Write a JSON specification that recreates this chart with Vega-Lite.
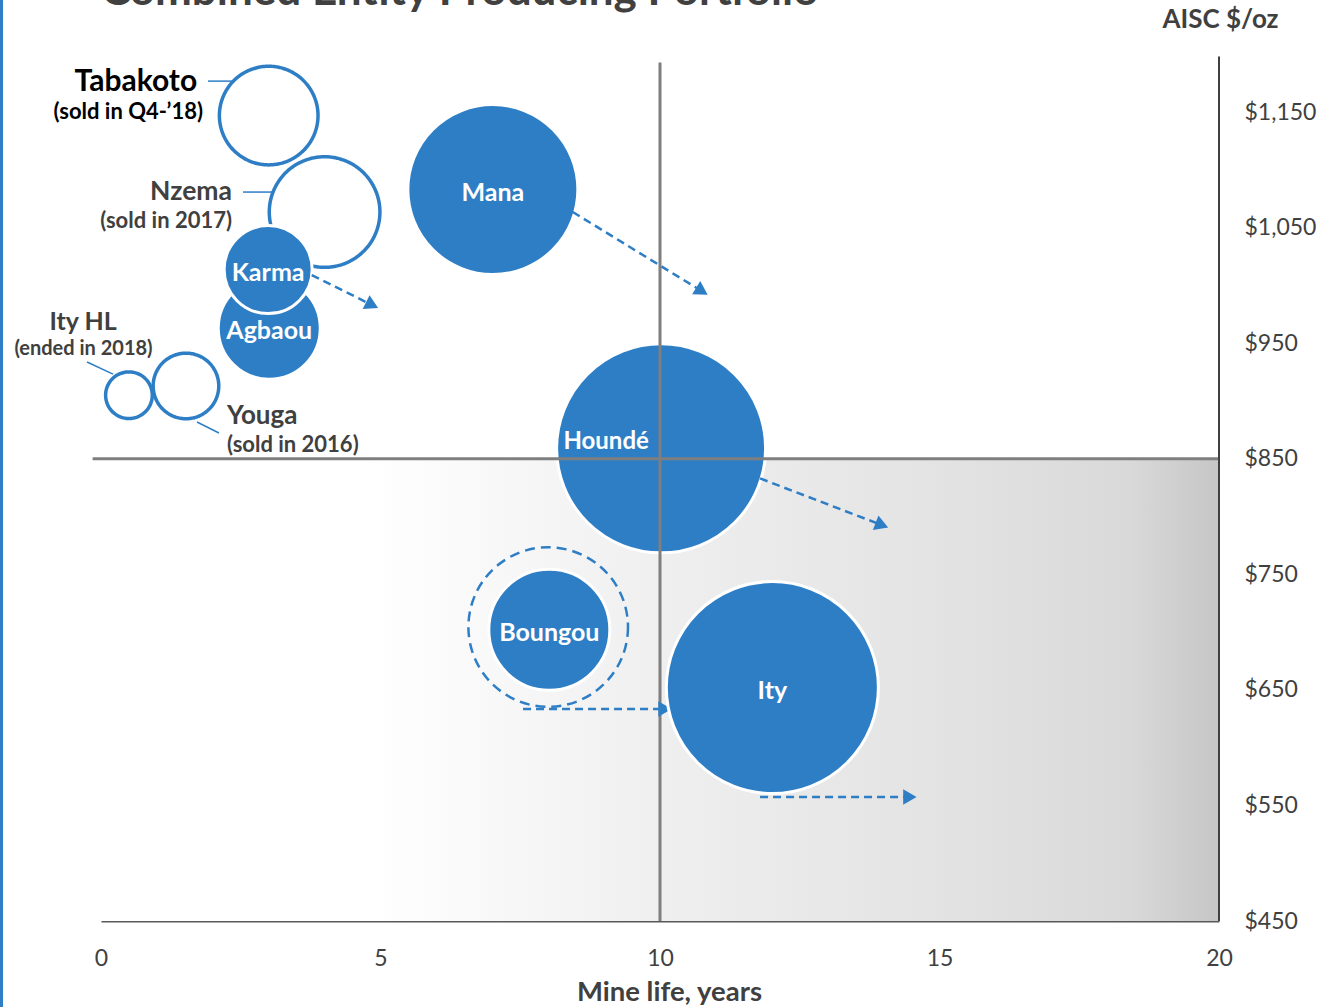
{
  "$schema": "https://vega.github.io/schema/vega-lite/v6.json",
  "width": 1118,
  "height": 921,
  "autosize": {"type": "none"},
  "padding": {"left": 101, "top": 0, "right": 117, "bottom": 86},
  "background": "white",
  "config": {"view": {"stroke": null}, "font": "Lato"},
  "datasets": {
    "mines": [
      {"mine": "Tabakoto", "status": "divested", "life": 3.0, "aisc": 1147, "production": 60.8},
      {"mine": "Nzema", "status": "divested", "life": 4.0, "aisc": 1063.5, "production": 76.5},
      {"mine": "Ity HL", "status": "divested", "life": 0.5, "aisc": 905, "production": 13.6},
      {"mine": "Youga", "status": "divested", "life": 1.52, "aisc": 913, "production": 26.9},
      {"mine": "Boungou", "status": "expansion", "life": 8.0, "aisc": 704.4, "production": 159.2},
      {"mine": "Agbaou", "status": "operating", "life": 3.01, "aisc": 963, "production": 65},
      {"mine": "Karma", "status": "operating", "life": 2.99, "aisc": 1013.7, "production": 48.4},
      {"mine": "Mana", "status": "operating", "life": 7.01, "aisc": 1083, "production": 180.6},
      {"mine": "Houndé", "status": "operating", "life": 10.02, "aisc": 859, "production": 273},
      {"mine": "Boungou", "status": "operating", "life": 8.02, "aisc": 702, "production": 91.5},
      {"mine": "Ity", "status": "operating", "life": 12.01, "aisc": 652, "production": 281}
    ],
    "arrows": [
      {"mine": "Mana", "life": 8.44, "aisc": 1063.5, "life2": 10.75, "aisc2": 995},
      {"mine": "Karma", "life": 3.77, "aisc": 1009, "life2": 4.85, "aisc2": 983},
      {"mine": "Houndé", "life": 11.79, "aisc": 833, "life2": 13.97, "aisc2": 792.6},
      {"mine": "Boungou", "life": 7.55, "aisc": 633.4, "life2": 10.09, "aisc2": 633.4},
      {"mine": "Ity", "life": 11.79, "aisc": 557.3, "life2": 14.47, "aisc2": 557.3}
    ],
    "zones": [
      {"zone": "low cost, long life", "life": 0, "life2": 20, "aisc": 450, "aisc2": 850}
    ],
    "refs": [
      {"kind": "quadrant", "life": -0.15, "aisc": 850, "life2": 20, "aisc2": 850},
      {"kind": "quadrant", "life": 10, "aisc": 450, "life2": 10, "aisc2": 1193},
      {"kind": "axis", "life": 20, "aisc": 450, "life2": 20, "aisc2": 1198},
      {"kind": "border", "life": -1.78, "aisc": 370, "life2": -1.78, "aisc2": 1247}
    ],
    "notes": [
      {"mine": "Tabakoto", "role": "name", "text": "Tabakoto", "life": 1.72, "aisc": 1168.2},
      {"mine": "Tabakoto", "role": "status", "text": "(sold in Q4-’18)", "life": 1.825, "aisc": 1144},
      {"mine": "Nzema", "role": "name", "text": "Nzema", "life": 2.343, "aisc": 1073.9},
      {"mine": "Nzema", "role": "status", "text": "(sold in 2017)", "life": 2.343, "aisc": 1049.6},
      {"mine": "Ity HL", "role": "name", "text": "Ity HL", "life": -0.322, "aisc": 961.4},
      {"mine": "Ity HL", "role": "status", "text": "(ended in 2018)", "life": -0.313, "aisc": 939.7},
      {"mine": "Youga", "role": "name", "text": "Youga", "life": 2.254, "aisc": 880},
      {"mine": "Youga", "role": "status", "text": "(sold in 2016)", "life": 2.254, "aisc": 855.8}
    ],
    "leaders": [
      {"mine": "Tabakoto", "life": 1.914, "aisc": 1176.8, "life2": 2.343, "aisc2": 1176.8},
      {"mine": "Nzema", "life": 2.54, "aisc": 1080.8, "life2": 3.059, "aisc2": 1080.8},
      {"mine": "Ity HL", "life": -0.25, "aisc": 933.7, "life2": 0.215, "aisc2": 923.3},
      {"mine": "Youga", "life": 1.717, "aisc": 881.8, "life2": 2.111, "aisc2": 872.3}
    ],
    "headings": [
      {"title": "Combined Entity Producing Portfolio", "life": 0, "aisc": 1242.6}
    ]
  },
  "encoding": {
    "x": {
      "field": "life", "type": "quantitative",
      "scale": {"domain": [0, 20], "nice": false, "zero": false},
      "axis": {
        "title": "Mine life, years", "values": [0, 5, 10, 15, 20], "ticks": false, "grid": false,
        "domain": true, "domainColor": "#595959", "domainWidth": 2,
        "labelFontSize": 23, "labelColor": "#404040", "labelPadding": 26, "labelFlush": false,
        "titleFontSize": 27.5, "titleFontWeight": "bold", "titleColor": "#404040",
        "titleX": 568, "titleY": 79, "titleAlign": "center", "titleBaseline": "alphabetic"
      }
    },
    "y": {
      "field": "aisc", "type": "quantitative",
      "scale": {"domain": [450, 1247], "nice": false, "zero": false},
      "axis": {
        "orient": "right", "title": "AISC $/oz", "values": [450, 550, 650, 750, 850, 950, 1050, 1150],
        "format": "$,.0f", "ticks": false, "grid": false, "domain": false,
        "labelFontSize": 23, "labelColor": "#404040", "labelPadding": 25, "labelAlign": "left",
        "labelBaseline": "middle", "labelOverlap": false,
        "titleAngle": 0, "titleX": 1, "titleY": 27, "titleAlign": "center", "titleBaseline": "alphabetic",
        "titleFontSize": 26, "titleFontWeight": "bold", "titleColor": "#404040"
      }
    }
  },
  "layer": [
    {
      "data": {"name": "zones"},
      "mark": {"type": "rect", "fill": {"gradient": "linear", "x1": 0, "y1": 0, "x2": 1, "y2": 0, "stops": [
        {"offset": 0, "color": "#ffffff"},
        {"offset": 0.24, "color": "#ffffff"},
        {"offset": 0.5, "color": "#efefef"},
        {"offset": 0.75, "color": "#e3e3e3"},
        {"offset": 0.92, "color": "#d9d9d9"},
        {"offset": 1, "color": "#c6c6c6"}
      ]}},
      "encoding": {"x2": {"field": "life2"}, "y2": {"field": "aisc2"}}
    },
    {
      "data": {"name": "mines"},
      "transform": [{"filter": "datum.status !== 'operating'"}],
      "mark": {"type": "point", "shape": "circle", "filled": false, "stroke": "#2E7EC6", "strokeWidth": 3.5, "opacity": 1},
      "encoding": {
        "size": {"field": "production", "type": "quantitative", "scale": {"domain": [0, 300], "range": [0, 48000]}, "legend": null},
        "strokeDash": {"condition": {"test": "datum.status === 'expansion'", "value": [10, 6]}, "value": [1, 0]},
        "strokeWidth": {"condition": {"test": "datum.status === 'expansion'", "value": 2.5}, "value": 3.5}
      }
    },
    {
      "data": {"name": "mines"},
      "transform": [{"filter": "datum.status === 'operating' && datum.mine !== 'Ity'"}],
      "mark": {"type": "point", "shape": "circle", "filled": true, "fill": "#2E7EC6", "stroke": "white", "strokeWidth": 3, "opacity": 1},
      "encoding": {
        "size": {"field": "production", "type": "quantitative", "scale": {"domain": [0, 300], "range": [0, 48000]}, "legend": null}
      }
    },
    {
      "data": {"name": "refs"},
      "transform": [{"filter": "datum.kind === 'quadrant'"}],
      "mark": {"type": "rule", "color": "#7f7f7f", "strokeWidth": 3},
      "encoding": {"x2": {"field": "life2"}, "y2": {"field": "aisc2"}}
    },
    {
      "data": {"name": "refs"},
      "transform": [{"filter": "datum.kind === 'axis'"}],
      "mark": {"type": "rule", "color": "#404040", "strokeWidth": 2},
      "encoding": {"x2": {"field": "life2"}, "y2": {"field": "aisc2"}}
    },
    {
      "data": {"name": "refs"},
      "transform": [{"filter": "datum.kind === 'border'"}],
      "mark": {"type": "rule", "color": "#2E7EC6", "strokeWidth": 3},
      "encoding": {"x2": {"field": "life2"}, "y2": {"field": "aisc2"}}
    },
    {
      "data": {"name": "arrows"},
      "mark": {"type": "rule", "color": "#2E7EC6", "strokeWidth": 2.5, "strokeDash": [8, 5]},
      "encoding": {"x2": {"field": "life2"}, "y2": {"field": "aisc2"}}
    },
    {
      "data": {"name": "arrows"},
      "transform": [{"calculate": "atan2((datum.aisc - datum.aisc2) * 921 / 797, (datum.life2 - datum.life) * 1118 / 20) * 180 / PI", "as": "heading"}],
      "mark": {"type": "point", "shape": "triangle-right", "filled": true, "color": "#2E7EC6", "size": 240, "opacity": 1},
      "encoding": {
        "x": {"field": "life2", "type": "quantitative"},
        "y": {"field": "aisc2", "type": "quantitative"},
        "angle": {"field": "heading", "type": "quantitative", "scale": null}
      }
    },
    {
      "data": {"name": "mines"},
      "transform": [{"filter": "datum.mine === 'Ity'"}],
      "mark": {"type": "point", "shape": "circle", "filled": true, "fill": "#2E7EC6", "stroke": "white", "strokeWidth": 3, "opacity": 1},
      "encoding": {
        "size": {"field": "production", "type": "quantitative", "scale": {"domain": [0, 300], "range": [0, 48000]}, "legend": null}
      }
    },
    {
      "data": {"name": "mines"},
      "transform": [{"filter": "datum.status === 'operating' && datum.mine !== 'Houndé'"}],
      "mark": {"type": "text", "color": "white", "fontWeight": "bold", "fontSize": 25, "align": "center", "baseline": "middle", "dy": 3},
      "encoding": {"text": {"field": "mine"}}
    },
    {
      "data": {"name": "mines"},
      "transform": [{"filter": "datum.mine === 'Houndé'"}],
      "mark": {"type": "text", "color": "white", "fontWeight": "bold", "fontSize": 24, "align": "center", "baseline": "middle", "dx": -55, "dy": -6},
      "encoding": {"text": {"field": "mine"}}
    },
    {
      "data": {"name": "leaders"},
      "mark": {"type": "rule", "color": "#2E7EC6", "strokeWidth": 1.5},
      "encoding": {"x2": {"field": "life2"}, "y2": {"field": "aisc2"}}
    },
    {
      "data": {"name": "notes"},
      "transform": [{"filter": "datum.mine === 'Tabakoto' || datum.mine === 'Nzema'"}],
      "mark": {"type": "text", "fontWeight": "bold", "align": "right", "baseline": "alphabetic"},
      "encoding": {
        "text": {"field": "text"},
        "size": {"condition": [{"test": "datum.role === 'name' && datum.mine === 'Tabakoto'", "value": 30}, {"test": "datum.role === 'name'", "value": 26.5}], "value": 22},
        "color": {"condition": {"test": "datum.mine === 'Tabakoto'", "value": "#000000"}, "value": "#404040"}
      }
    },
    {
      "data": {"name": "notes"},
      "transform": [{"filter": "datum.mine === 'Ity HL'"}],
      "mark": {"type": "text", "fontWeight": "bold", "align": "center", "baseline": "alphabetic", "color": "#404040"},
      "encoding": {
        "text": {"field": "text"},
        "size": {"condition": {"test": "datum.role === 'name'", "value": 25}, "value": 20}
      }
    },
    {
      "data": {"name": "notes"},
      "transform": [{"filter": "datum.mine === 'Youga'"}],
      "mark": {"type": "text", "fontWeight": "bold", "align": "left", "baseline": "alphabetic", "color": "#404040"},
      "encoding": {
        "text": {"field": "text"},
        "size": {"condition": {"test": "datum.role === 'name'", "value": 26}, "value": 22}
      }
    },
    {
      "data": {"name": "headings"},
      "mark": {"type": "text", "fontWeight": "bold", "align": "left", "baseline": "alphabetic", "color": "#404040", "fontSize": 44},
      "encoding": {"text": {"field": "title"}}
    }
  ]
}
